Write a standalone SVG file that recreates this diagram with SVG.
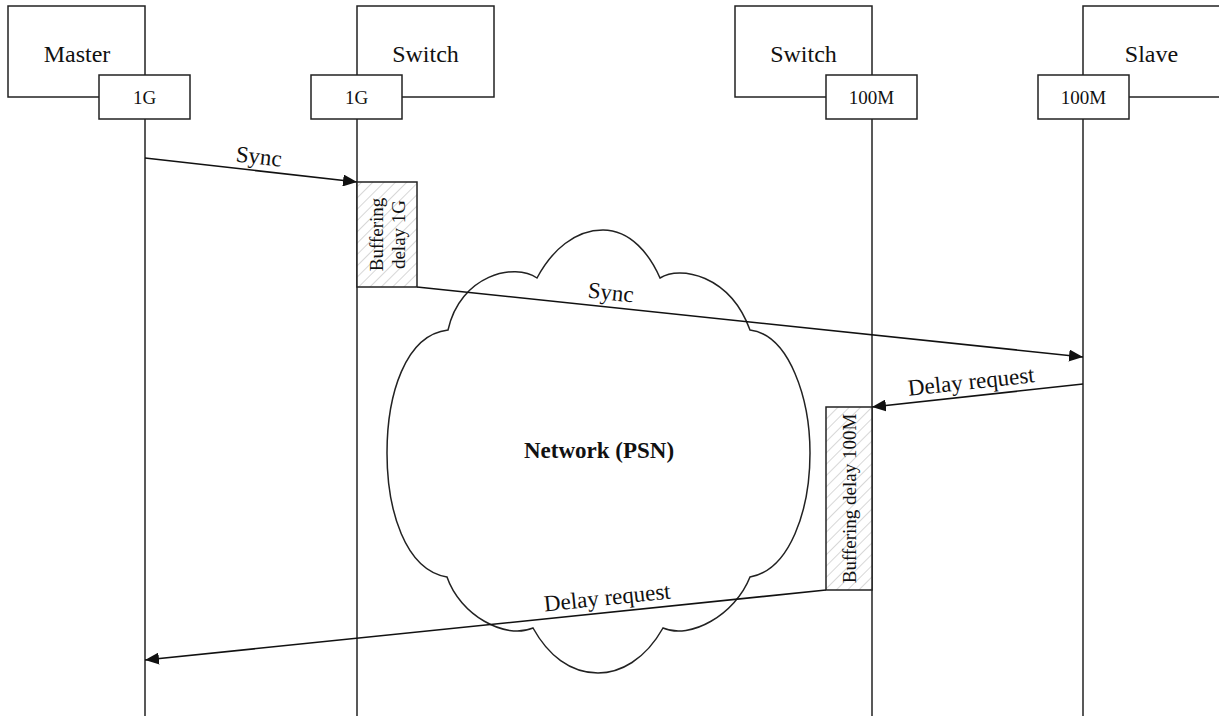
<svg xmlns="http://www.w3.org/2000/svg" width="1219" height="720" viewBox="0 0 1219 720">
<style>
.box{fill:#fff;stroke:#222;stroke-width:1.5}
.life{stroke:#222;stroke-width:1.5;fill:none}
.arr{stroke:#111;stroke-width:1.6;fill:none;marker-end:url(#ah)}
.t{font-family:"Liberation Serif","Times New Roman",serif;fill:#111}
.title{font-size:24px;text-anchor:middle}
.port{font-size:19px;text-anchor:middle}
.lbl{font-size:23px;text-anchor:middle}
.buf{font-size:19px;text-anchor:middle}
.hatch{fill:url(#hp);stroke:#222;stroke-width:1.5}
</style>
<defs>
<marker id="ah" viewBox="0 0 14 12" refX="14" refY="6" markerWidth="14" markerHeight="12" markerUnits="userSpaceOnUse" orient="auto">
<path d="M0,0 L14,6 L0,12 Z" fill="#111"/>
</marker>
<pattern id="hp" patternUnits="userSpaceOnUse" width="8" height="8" patternTransform="rotate(45)">
<rect width="8" height="8" fill="#fff"/>
<line x1="0" y1="0" x2="0" y2="8" stroke="#b0b0b0" stroke-width="1"/>
</pattern>
</defs>
<rect width="1219" height="720" fill="#fff"/>

<g id="network">
<path class="box" d="M537,278 C552,250 575,230 603,230 C631,230 650,255 660,278 C680,265 730,275 750,330 C790,335 810,400 810,453 C810,510 790,570 750,577 C735,615 690,640 663,628 C645,660 620,673 598,673 C570,673 548,655 533,628 C505,640 460,615 447,577 C405,570 387,510 387,453 C387,395 405,335 448,330 C460,275 515,262 537,278 Z"/>
<text class="t" x="599" y="458" font-size="23" font-weight="bold" text-anchor="middle">Network (PSN)</text>
</g>

<g id="connectors">
<line class="life" x1="145" y1="119" x2="145" y2="716"/>
<line class="life" x1="357" y1="119" x2="357" y2="716"/>
<line class="life" x1="872" y1="119" x2="872" y2="716"/>
<line class="life" x1="1083" y1="119" x2="1083" y2="716"/>
<line class="arr" x1="145" y1="158" x2="357" y2="182"/>
<text class="t lbl" transform="translate(258,164) rotate(6.46)">Sync</text>
<line class="arr" x1="417" y1="287" x2="1083" y2="357"/>
<text class="t lbl" transform="translate(610,300) rotate(6)">Sync</text>
<line class="arr" x1="1083" y1="384" x2="872" y2="407"/>
<text class="t lbl" transform="translate(972,389) rotate(-6.2)">Delay request</text>
<line class="arr" x1="826" y1="590" x2="145" y2="660"/>
<text class="t lbl" transform="translate(608,605) rotate(-5.87)">Delay request</text>
</g>

<g id="master">
<rect class="box" x="8" y="6" width="137" height="91"/>
<text class="t title" x="77" y="62">Master</text>
<rect class="box" x="99" y="75" width="91" height="44"/>
<text class="t port" x="144.5" y="104">1G</text>
</g>

<g id="switch1">
<rect class="box" x="357" y="6" width="137" height="91"/>
<text class="t title" x="425.5" y="62">Switch</text>
<rect class="box" x="311" y="75" width="91" height="44"/>
<text class="t port" x="356.5" y="104">1G</text>
</g>

<g id="switch2">
<rect class="box" x="735" y="6" width="137" height="91"/>
<text class="t title" x="803.5" y="62">Switch</text>
<rect class="box" x="826" y="75" width="91" height="44"/>
<text class="t port" x="871.5" y="104">100M</text>
</g>

<g id="slave">
<rect class="box" x="1083" y="6" width="140" height="91"/>
<text class="t title" x="1151.5" y="62">Slave</text>
<rect class="box" x="1038" y="75" width="91" height="44"/>
<text class="t port" x="1083.5" y="104">100M</text>
</g>

<g id="buffer1g">
<rect class="hatch" x="357" y="182" width="60" height="105"/>
<text class="t buf" transform="translate(387,234.5) rotate(-90)"><tspan x="0" y="-4">Buffering</tspan><tspan x="0" y="18">delay 1G</tspan></text>
</g>

<g id="buffer100m">
<rect class="hatch" x="826" y="407" width="46" height="183"/>
<text class="t buf" transform="translate(849,498.5) rotate(-90)" y="7">Buffering delay 100M</text>
</g>
</svg>
